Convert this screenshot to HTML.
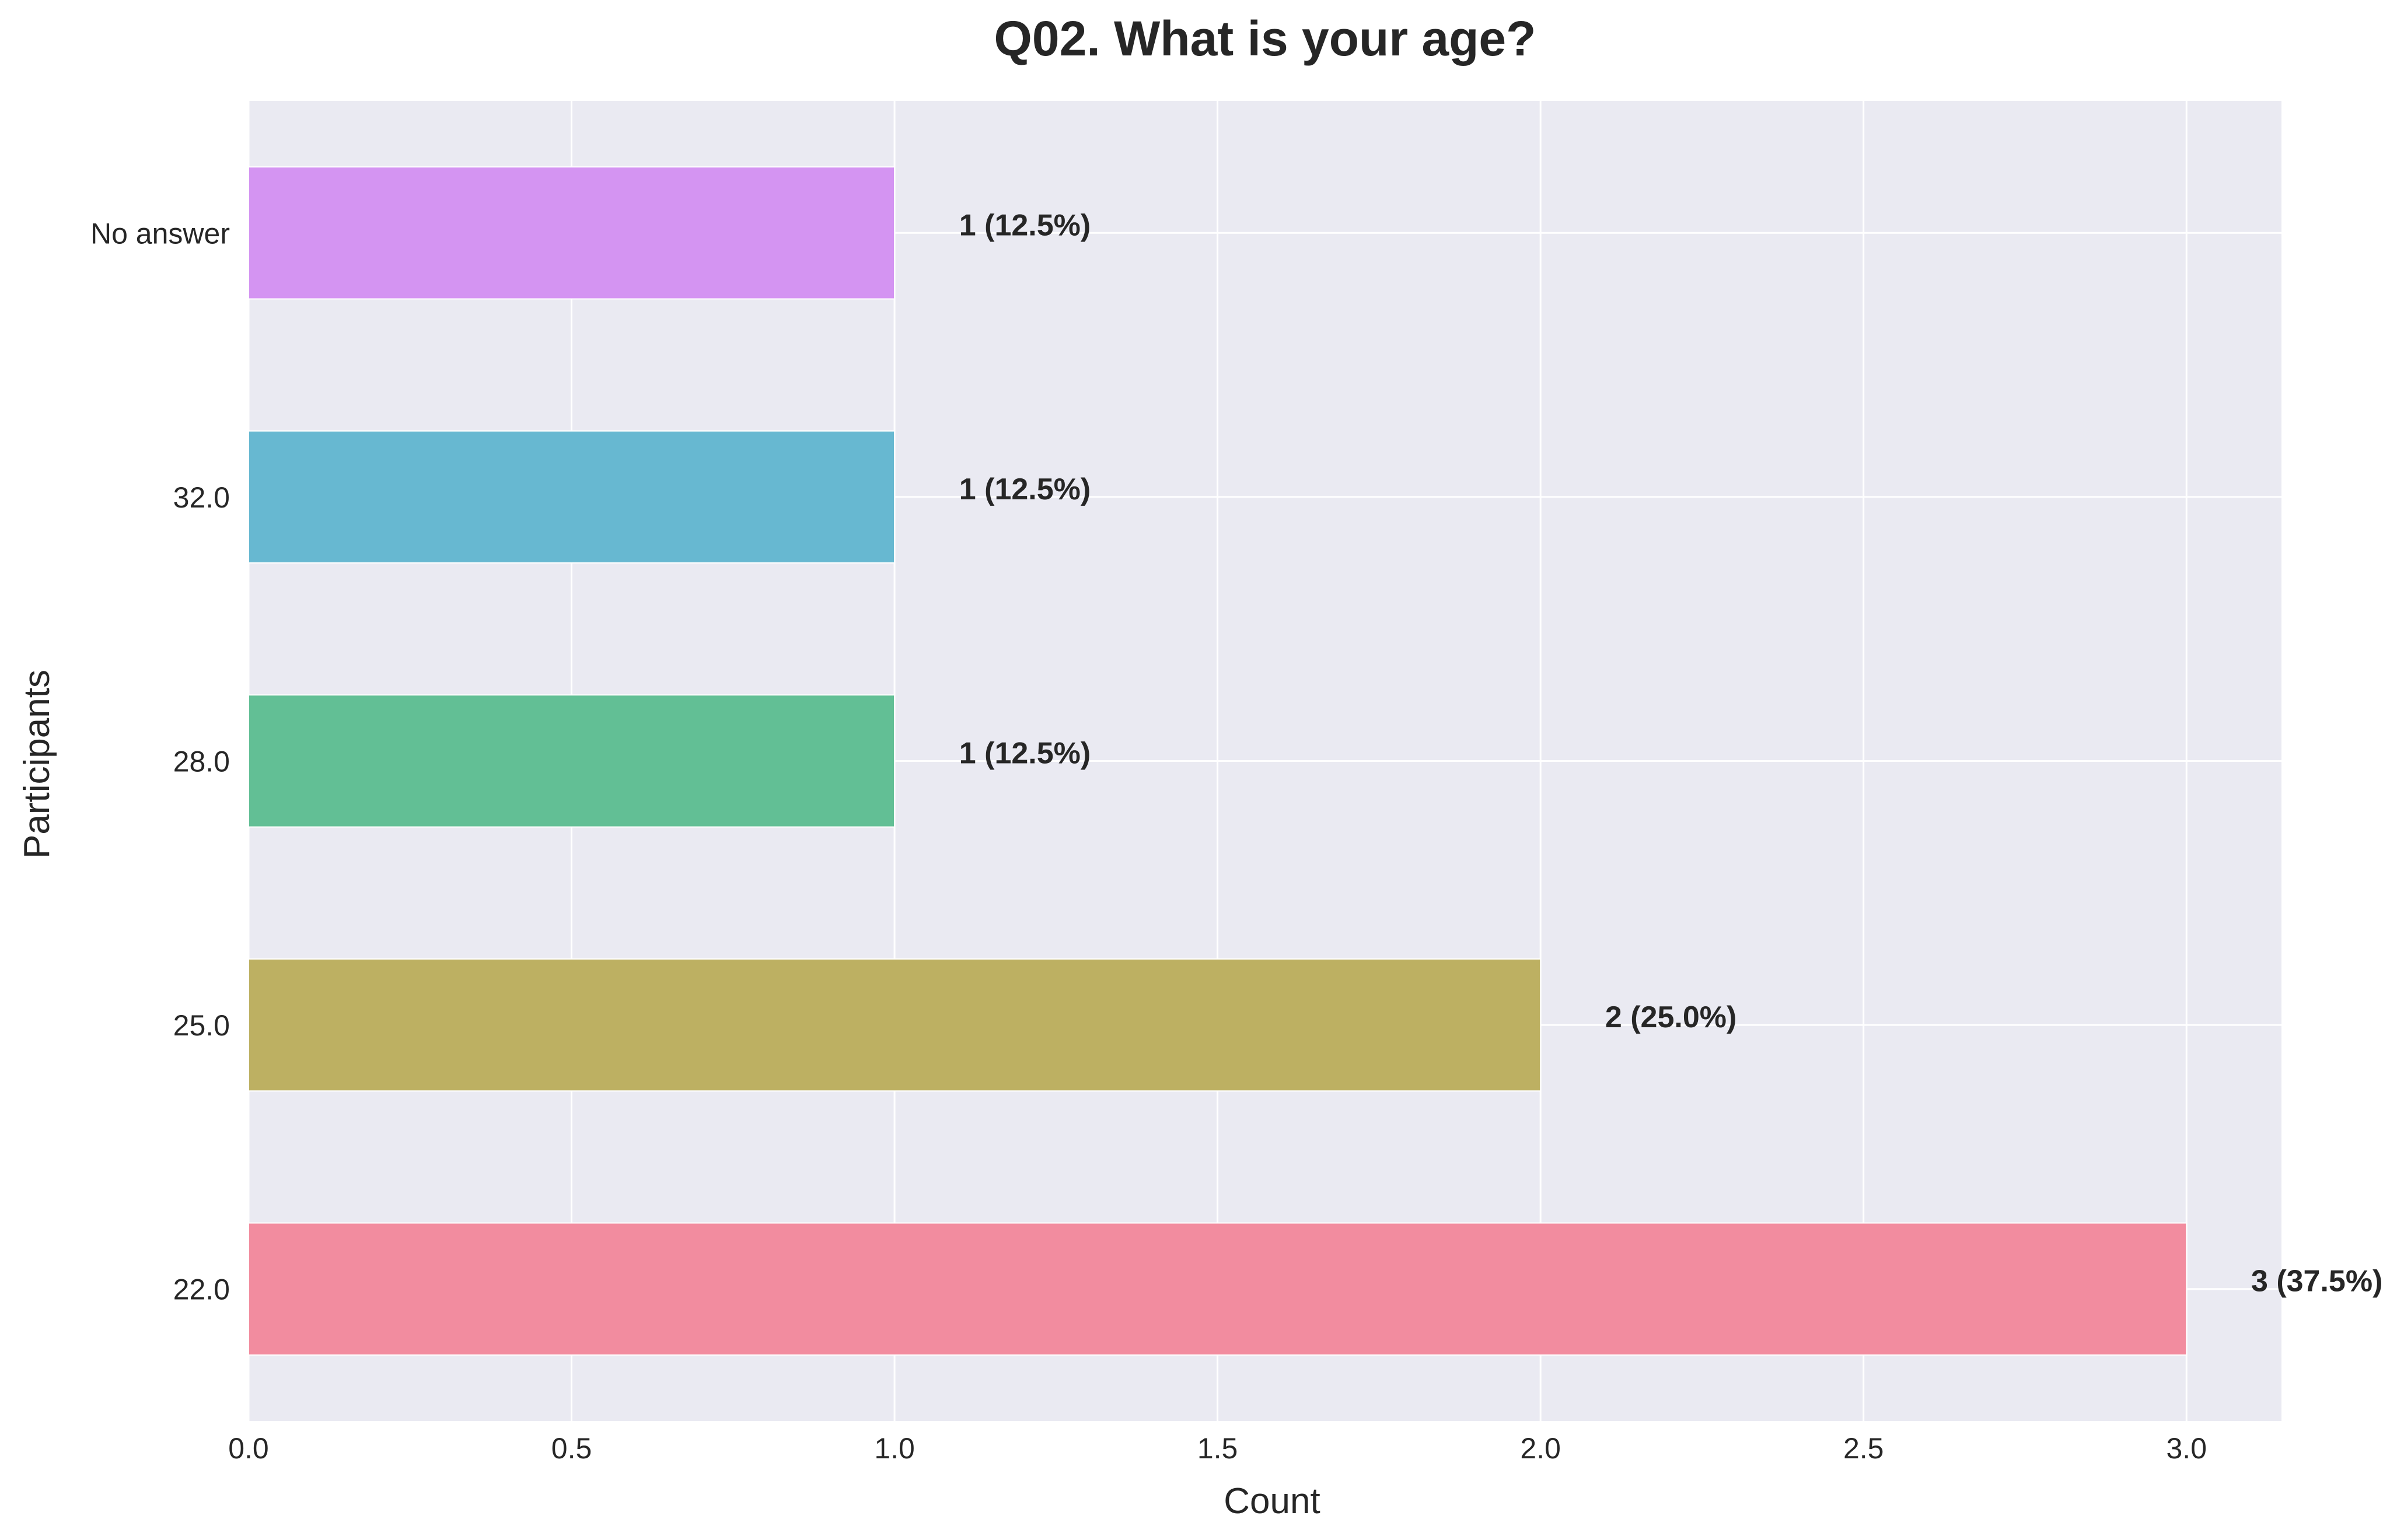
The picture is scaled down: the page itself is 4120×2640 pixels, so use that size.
<!DOCTYPE html>
<html><head><meta charset="utf-8"><style>
html,body{margin:0;padding:0;background:#fff;}
svg{display:block;font-family:"Liberation Sans","DejaVu Sans",sans-serif;}
</style></head><body>
<svg id="chart" width="4120" height="2640" viewBox="0 0 4120 2640" xmlns="http://www.w3.org/2000/svg">
<rect x="0" y="0" width="4120" height="2640" fill="#ffffff"/>
<text x="2168" y="95" text-anchor="middle" font-size="84" font-weight="bold" fill="#262626">Q02. What is your age?</text>
<rect x="426" y="173" width="3484" height="2263" fill="#eaeaf2"/>
<g id="grid"></g>
<g id="bars"></g>
<g id="labels"></g>
<g id="ticks"></g>
<text x="2180" y="2594" text-anchor="middle" font-size="62" fill="#262626">Count</text>
<text x="84" y="1310" text-anchor="middle" font-size="62" fill="#262626" transform="rotate(-90 84 1310)">Participants</text>
</svg>
<script>
const categories = ["22.0", "25.0", "28.0", "32.0", "No answer"];
const counts = [3, 2, 1, 1, 1];
const valueLabels = ["3 (37.5%)", "2 (25.0%)", "1 (12.5%)", "1 (12.5%)", "1 (12.5%)"];
const xTicks = [0, 0.5, 1, 1.5, 2, 2.5, 3];
const xTickLabels = ["0.0", "0.5", "1.0", "1.5", "2.0", "2.5", "3.0"];
const barColors = ["#f28c9f", "#bdb062", "#62bf95", "#67b8d1", "#d494f2"];

const L = 426, R = 3910, T = 173, B = 2436;
const xMax = 3.147;
const xs = v => L + (v / xMax) * (R - L);
const band = (B - T) / categories.length;
const ys = i => B - band * (i + 0.5);
const NS = "http://www.w3.org/2000/svg";
function mk(tag, attrs, parent) {
  const el = document.createElementNS(NS, tag);
  for (const k in attrs) el.setAttribute(k, attrs[k]);
  document.getElementById(parent).appendChild(el);
  return el;
}
xTicks.forEach((t, i) => {
  const g = mk("line", {x1: xs(t), x2: xs(t), y1: T, y2: B, stroke: "#ffffff", "stroke-width": 3}, "grid");
  
  
  const tl = mk("text", {x: xs(t), y: 2500, "text-anchor": "middle", "font-size": 50, fill: "#262626"}, "ticks");
  tl.textContent = xTickLabels[i];
  
  
});
categories.forEach((c, i) => {
  const gl = mk("line", {x1: L, x2: R, y1: ys(i), y2: ys(i), stroke: "#ffffff", "stroke-width": 3}, "grid");
  
  
  const h = band * 0.5;
  const b = mk("rect", {x: L, y: ys(i) - h / 2, width: xs(counts[i]) - L, height: h, fill: barColors[i], stroke: "#ffffff", "stroke-width": 2}, "bars");
  
  
  const vl = mk("text", {x: xs(counts[i] + 0.1), y: ys(i) + 4, "font-size": 52, "font-weight": "bold", fill: "#262626"}, "labels");
  vl.textContent = valueLabels[i];
  
  
  const tl = mk("text", {x: 394, y: ys(i) + 18, "text-anchor": "end", "font-size": 50, fill: "#262626"}, "ticks");
  tl.textContent = c;
  
  
});
</script>
</body></html>
